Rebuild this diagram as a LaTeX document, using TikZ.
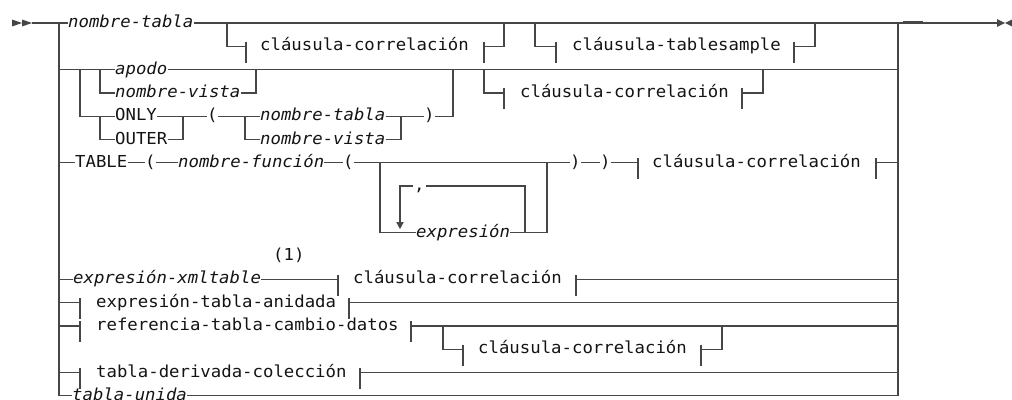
\documentclass[tikz,border=0pt]{standalone}
\usepackage{fontspec}
\newfontfamily\railfont{DejaVu Sans Mono}[FakeStretch=1.05,ItalicFont={DejaVu Sans Mono Oblique}]
\definecolor{railgray}{RGB}{70,70,70}
\definecolor{railtext}{RGB}{20,20,20}
\usetikzlibrary{arrows.meta,calc}

\tikzset{
  rail/.style={draw=railgray, line width=1.3pt},
  word/.style={anchor=west, inner xsep=0pt, inner ysep=0pt, text height=9pt, text depth=0pt,
    text=railtext, font={\railfont\fontsize{16.5pt}{18pt}\selectfont}},
  var/.style={word, font={\railfont\fontsize{16.5pt}{18pt}\selectfont\itshape}},
}

\begin{document}
\begin{tikzpicture}[x=1pt, y=-23.3pt]
  \useasboundingbox (0,-0.987) rectangle (1012,16.18);

  % start and end marks
  \fill[railgray] (12,-0.15) -- (22,0) -- (12,0.15) -- cycle;
  \fill[railgray] (22,-0.15) -- (32,0) -- (22,0.15) -- cycle;
  \fill[railgray] (997,-0.17) -- (1005,0) -- (997,0.17) -- cycle;
  \fill[railgray] (1013,-0.17) -- (1005,0) -- (1013,0.17) -- cycle;

  % outer rails
  \node[var] (tunida) at (72,16) {tabla-unida};
  \draw[rail] (59,0) -- (59,16) -- (tunida.west);
  \draw[rail] (tunida.east) -- (898,16) -- (898,0);

  % row: nombre-tabla
  \node[var] (ntab) at (68,0) {nombre-tabla};
  \draw[rail] (32,0) -- (ntab.west);
  \draw[rail] (ntab.east) -- (997,0);
  \draw[railgray, line width=1.8pt] (903,-0.03) -- (923,-0.03);

  \node[word] (corr1) at (260,1) {cláusula-correlación};
  \draw[rail] (227,0) -- (227,1) -- (246,1);
  \draw[rail] (246,0.8) -- (246,1.7);
  \draw[rail] (484,0.8) -- (484,1.7);
  \draw[rail] (484,1) -- (504,1) -- (504,0);

  \node[word] (tsample) at (572,1) {cláusula-tablesample};
  \draw[rail] (535,0) -- (535,1) -- (556,1);
  \draw[rail] (556,0.8) -- (556,1.7);
  \draw[rail] (794,0.8) -- (794,1.7);
  \draw[rail] (794,1) -- (815,1) -- (815,0);

  % row: apodo / nombre-vista / ONLY / OUTER
  \node[var] (apodo) at (115,2) {apodo};
  \draw[rail] (59,2) -- (apodo.west);
  \draw[rail] (apodo.east) -- (898,2);

  \node[var] (nvista1) at (115,3) {nombre-vista};
  \draw[rail] (100,2) -- (100,3) -- (nvista1.west);
  \draw[rail] (nvista1.east) -- (256,3) -- (256,2);

  \node[word] (only) at (115,4) {ONLY};
  \node[word] (outer) at (115,5) {OUTER};
  \draw[rail] (80,2) -- (80,4) -- (only.west);
  \draw[rail] (100,4) -- (100,5) -- (outer.west);
  \draw[rail] (outer.east) -- (183,5) -- (183,4);

  \node[word] (lpar1) at (207,4) {(};
  \node[var] (ntab2) at (260,4) {nombre-tabla};
  \node[var] (nvista2) at (260,5) {nombre-vista};
  \node[word] (rpar1) at (424,4) {)};
  \draw[rail] (only.east) -- (lpar1.west);
  \draw[rail] (lpar1.east) -- (ntab2.west);
  \draw[rail] (245,4) -- (245,5) -- (nvista2.west);
  \draw[rail] (nvista2.east) -- (401,5) -- (401,4);
  \draw[rail] (ntab2.east) -- (rpar1.west);
  \draw[rail] (rpar1.east) -- (453,4) -- (453,2);

  \node[word] (corr2) at (520,3) {cláusula-correlación};
  \draw[rail] (484,2) -- (484,3) -- (504,3);
  \draw[rail] (504,2.8) -- (504,3.7);
  \draw[rail] (742,2.8) -- (742,3.7);
  \draw[rail] (742,3) -- (763,3) -- (763,2);

  % row: TABLE
  \node[word] (table) at (75,6) {TABLE};
  \node[word] (lpar2) at (145,6) {(};
  \node[var] (nfunc) at (178,6) {nombre-función};
  \node[word] (lpar3) at (343,6) {(};
  \node[word] (rpar2) at (570,6) {)};
  \node[word] (rpar3) at (600,6) {)};
  \draw[rail] (59,6) -- (table.west);
  \draw[rail] (table.east) -- (lpar2.west);
  \draw[rail] (lpar2.east) -- (nfunc.west);
  \draw[rail] (nfunc.east) -- (lpar3.west);
  \draw[rail] (lpar3.east) -- (rpar2.west);
  \draw[rail] (rpar2.east) -- (rpar3.west);
  \draw[rail] (rpar3.east) -- (638,6);

  \node[var] (expr) at (416,9) {expresión};
  \node[word, inner xsep=1pt] (comma) at (413,7) {,};
  \draw[rail] (380,6) -- (380,9) -- (expr.west);
  \draw[rail] (expr.east) -- (547,9) -- (547,6);
  \draw[rail] (525,9) -- (525,7) -- (comma.east);
  \draw[rail, -{Triangle[length=7pt,width=7pt]}] (comma.west) -- (400,7) -- (400,8.85);

  \node[word] (corr3) at (652,6) {cláusula-correlación};
  \draw[rail] (638,5.8) -- (638,6.7);
  \draw[rail] (876,5.8) -- (876,6.7);
  \draw[rail] (876,6) -- (898,6);

  % row: expresión-xmltable
  \node[word] (note1) at (273,10) {(1)};
  \node[var] (xmlt) at (73,11) {expresión-xmltable};
  \draw[rail] (59,11) -- (xmlt.west);
  \draw[rail] (xmlt.east) -- (338,11);
  \node[word] (corr4) at (353,11) {cláusula-correlación};
  \draw[rail] (338,10.8) -- (338,11.7);
  \draw[rail] (576,10.8) -- (576,11.7);
  \draw[rail] (576,11) -- (898,11);

  % rows: fragments
  \node[word] (anid) at (96,12) {expresión-tabla-anidada};
  \draw[rail] (59,12) -- (80,12);
  \draw[rail] (80,11.8) -- (80,12.7);
  \draw[rail] (349,11.8) -- (349,12.7);
  \draw[rail] (349,12) -- (898,12);

  \node[word] (refcd) at (96,13) {referencia-tabla-cambio-datos};
  \draw[rail] (59,13) -- (80,13);
  \draw[rail] (80,12.8) -- (80,13.7);
  \draw[rail] (411,12.8) -- (411,13.7);
  \draw[rail] (411,13) -- (898,13);

  \node[word] (corr5) at (478,14) {cláusula-correlación};
  \draw[rail] (443,13) -- (443,14) -- (463,14);
  \draw[rail] (463,13.8) -- (463,14.7);
  \draw[rail] (701,13.8) -- (701,14.7);
  \draw[rail] (701,14) -- (722,14) -- (722,13);

  \node[word] (tderiv) at (96,15) {tabla-derivada-colección};
  \draw[rail] (59,15) -- (80,15);
  \draw[rail] (80,14.8) -- (80,15.7);
  \draw[rail] (360,14.8) -- (360,15.7);
  \draw[rail] (360,15) -- (898,15);
\end{tikzpicture}
\end{document}
